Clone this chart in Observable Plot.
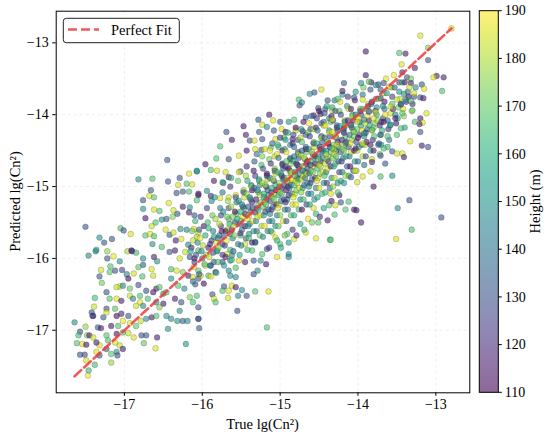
<!DOCTYPE html>
<html><head><meta charset="utf-8">
<script src="https://cdn.jsdelivr.net/npm/d3@7"></script>
<script src="https://cdn.jsdelivr.net/npm/@observablehq/plot@0.6"></script>
<style>
html,body{margin:0;padding:0;background:#fff;}
#chart{width:550px;height:438px;}
</style></head><body><div id="chart"></div>
<script>
const xTicks = [-17,-16,-15,-14,-13];
const yTicks = [-17,-16,-15,-14,-13];
const cbTicks = [110,120,130,140,150,160,170,180,190];
const xLabel = "True lg(Cn²)";
const yLabel = "Predicted lg(Cn²)";
const cbLabel = "Height (m)";
const legendLabel = "Perfect Fit";

// [true lg(Cn2), predicted lg(Cn2), height m]
const lowerLeft = [[-17.46,-15.96,148],[-17.37,-15.9,150],[-17.3,-16.16,184],[-17.32,-16.25,132],[-17.29,-16.34,172],[-17.38,-16.55,166],[-17.39,-16.67,183],[-17.42,-16.75,131],[-17.41,-16.8,140],[-17.64,-16.89,150],[-17.57,-17.02,128],[-17.59,-17.07,165],[-17.5,-16.95,177],[-17.48,-17.07,174],[-17.45,-17.07,117],[-17.61,-17.18,168],[-17.54,-17.19,186],[-17.49,-17.2,114],[-17.57,-17.34,130],[-17.51,-17.34,127],[-17.49,-17.42,185],[-17.38,-17.48,166],[-17.46,-17.56,163],[-17.47,-17.63,188],[-17.34,-16.96,133],[-17.3,-16.97,116],[-17.22,-15.9,176],[-16.96,-15.9,178],[-16.9,-15.9,118],[-16.85,-15.92,165],[-17.22,-16.0,131],[-17.14,-15.97,187],[-17.06,-16.04,150],[-17.18,-16.11,167],[-17.19,-16.19,169],[-17.12,-16.17,129],[-17.03,-16.16,126],[-16.97,-16.22,147],[-16.95,-16.28,113],[-16.88,-16.21,184],[-16.76,-16.0,149],[-16.76,-16.09,132],[-16.82,-16.12,168],[-16.65,-16.15,186],[-16.62,-15.98,117],[-16.58,-16.04,150],[-16.63,-16.24,183],[-16.77,-16.25,166],[-16.82,-16.37,130],[-17.06,-16.39,185],[-17.1,-16.4,182],[-17.02,-16.38,148],[-16.93,-16.42,170],[-17.23,-16.47,131],[-17.19,-16.56,168],[-17.1,-16.56,186],[-17.04,-16.59,116],[-16.93,-16.52,184],[-16.89,-16.56,146],[-16.8,-16.52,167],[-16.72,-16.45,129],[-16.63,-16.47,115],[-16.59,-16.42,118],[-16.55,-16.4,170],[-16.5,-16.49,150],[-16.7,-16.56,166],[-16.8,-16.61,187],[-16.85,-16.66,183],[-16.76,-16.66,148],[-16.59,-16.61,152],[-16.5,-16.63,116],[-16.55,-16.68,175],[-17.23,-16.7,130],[-17.4,-16.8,117],[-17.27,-16.82,133],[-17.23,-16.75,185],[-17.12,-16.7,169],[-17.1,-16.8,114],[-17.04,-16.77,118],[-16.95,-16.8,131],[-17.02,-16.87,187],[-17.17,-16.94,115],[-17.08,-16.94,167],[-16.93,-16.9,184],[-16.85,-16.94,170],[-16.79,-16.87,183],[-16.72,-16.84,149],[-16.65,-16.82,116],[-16.59,-16.8,168],[-16.46,-16.8,150],[-16.4,-16.84,147],[-16.32,-16.87,152],[-16.25,-16.87,132],[-16.19,-16.87,148],[-16.05,-16.84,131],[-16.44,-16.98,150],[-16.21,-17.19,152],[-16.6,-17.25,186],[-16.75,-17.18,170],[-16.72,-17.07,131],[-16.78,-17.07,129],[-16.58,-17.1,117],[-16.88,-17.1,185],[-16.95,-17.04,183],[-17.02,-17.03,167],[-17.1,-17.05,115],[-17.23,-17.07,168],[-17.21,-17.14,166],[-17.12,-17.17,185],[-17.06,-17.21,183],[-17.02,-17.26,116],[-17.1,-17.3,150],[-17.17,-17.33,168],[-17.23,-17.26,130],[-17.32,-17.21,185],[-17.17,-17.45,176],[-17.09,-17.35,131],[-17.32,-17.35,129],[-17.36,-17.3,186],[-17.4,-17.1,184],[-17.36,-17.17,116]];

const lowerDiag = [[-16.42,-15.91,132],[-16.35,-15.89,116],[-16.29,-16.0,185],[-16.22,-15.91,183],[-16.16,-15.98,131],[-16.1,-16.0,117],[-16.05,-15.89,168],[-16.4,-16.15,167],[-16.33,-16.17,186],[-16.25,-16.19,174],[-16.18,-16.24,116],[-16.12,-16.26,184],[-16.05,-16.28,130],[-16.4,-16.28,150],[-16.31,-16.38,168],[-16.23,-16.42,148],[-16.16,-16.54,174],[-16.07,-16.52,167],[-16.46,-16.47,169],[-16.35,-16.56,117],[-16.27,-16.61,131],[-16.12,-16.61,166],[-16.05,-16.68,130],[-16.29,-16.73,150]];

const leftUpper = [[-16.45,-14.63,131],[-16.82,-14.9,149],[-16.64,-14.89,167],[-16.44,-14.93,132],[-16.17,-14.82,186],[-16.07,-14.79,150],[-16.29,-14.88,130],[-16.31,-14.98,185],[-16.2,-14.96,168],[-16.13,-14.97,184],[-16.66,-15.05,131],[-16.68,-15.13,186],[-16.62,-15.15,168],[-16.76,-15.19,132],[-16.33,-15.09,130],[-16.25,-15.07,132],[-16.17,-15.07,166],[-16.05,-15.12,116],[-16.43,-15.23,186],[-16.76,-15.31,150],[-16.62,-15.32,185],[-16.55,-15.34,168],[-16.37,-15.33,184],[-16.25,-15.28,116],[-16.16,-15.29,149],[-16.07,-15.19,167],[-16.73,-15.44,115],[-16.6,-15.5,167],[-16.52,-15.46,150],[-16.46,-15.45,131],[-16.38,-15.42,175],[-16.32,-15.38,130],[-16.17,-15.36,116],[-16.1,-15.4,131],[-17.5,-15.56,131],[-17.32,-15.71,150],[-17.26,-15.78,132],[-17.16,-15.73,131],[-17.05,-15.58,167],[-17.01,-15.61,130],[-16.92,-15.66,185],[-16.73,-15.68,168],[-16.67,-15.66,186],[-16.62,-15.69,166],[-16.65,-15.55,183],[-16.47,-15.6,185],[-16.42,-15.67,130],[-16.37,-15.64,184],[-16.28,-15.59,150],[-16.2,-15.6,145],[-16.11,-15.59,186],[-16.05,-15.64,183],[-16.34,-15.75,116],[-16.27,-15.73,185],[-16.18,-15.81,148],[-16.12,-15.75,184],[-16.64,-15.8,149],[-16.52,-15.84,168],[-17.36,-15.88,150],[-16.91,-15.89,117]];

const midUpper = [[-14.47,-13.65,186],[-14.56,-13.69,132],[-14.62,-13.71,150],[-14.76,-13.79,168],[-14.72,-13.83,148],[-14.75,-13.87,131],[-14.39,-13.8,130],[-14.51,-13.91,131],[-14.42,-13.92,132],[-14.33,-13.94,185],[-15.14,-14.0,116],[-15.09,-14.08,186],[-15.28,-14.07,131],[-15.23,-14.14,184],[-15.0,-14.1,130],[-14.89,-14.1,150],[-14.82,-14.07,168],[-14.67,-14.04,131],[-14.57,-14.01,116],[-14.48,-13.99,117],[-15.47,-14.16,116],[-15.17,-14.17,148],[-15.08,-14.22,132],[-14.98,-14.2,186],[-14.93,-14.24,115],[-14.8,-14.22,184],[-14.71,-14.23,117],[-14.61,-14.2,131],[-14.44,-14.15,186],[-14.35,-14.1,168],[-15.69,-14.24,131],[-15.62,-14.35,116],[-15.44,-14.28,117],[-15.39,-14.36,130],[-15.33,-14.36,185],[-15.27,-14.24,132],[-15.23,-14.34,130],[-15.06,-14.34,184],[-14.95,-14.32,168],[-14.84,-14.34,116],[-15.77,-14.44,167],[-15.43,-14.5,115],[-15.32,-14.48,185],[-15.24,-14.49,131],[-15.12,-14.46,168],[-15.02,-14.45,166],[-15.53,-14.57,186],[-15.66,-14.62,132],[-15.82,-14.61,168],[-15.96,-14.69,116],[-15.89,-14.77,167],[-15.81,-14.78,185],[-15.7,-14.8,184],[-15.66,-14.87,117],[-15.51,-14.79,131],[-15.85,-14.92,115],[-15.74,-14.94,168],[-16.07,-14.78,148],[-16.05,-15.1,116],[-15.89,-15.13,117],[-15.77,-15.16,185],[-15.66,-15.15,184],[-15.94,-15.06,150]];

const midLower = [[-14.57,-15.3,186],[-14.37,-15.26,168],[-14.3,-15.39,167],[-14.39,-15.47,116],[-14.51,-15.5,168],[-14.67,-15.64,185],[-14.54,-15.72,186],[-14.36,-15.74,167],[-14.82,-15.73,185],[-14.91,-15.66,168],[-15.06,-15.71,184],[-15.1,-15.64,186],[-15.0,-15.8,167],[-15.17,-15.87,130],[-15.23,-15.94,168],[-15.04,-15.98,186],[-14.89,-15.94,150],[-14.89,-15.98,148],[-15.18,-16.08,116],[-15.25,-16.03,150],[-15.34,-16.03,131],[-15.45,-16.05,116],[-15.53,-16.03,185],[-15.62,-15.96,150],[-15.64,-16.03,149],[-15.57,-16.13,168],[-15.29,-16.17,150],[-15.34,-16.22,131],[-15.66,-16.17,148],[-15.64,-16.24,150],[-15.57,-16.26,149],[-15.72,-16.39,131],[-15.62,-16.38,185],[-15.66,-16.45,186],[-15.57,-16.4,116],[-15.49,-16.44,150],[-15.54,-16.52,148],[-15.43,-16.52,131],[-15.32,-16.46,168],[-15.15,-16.46,186],[-15.67,-16.55,184],[-15.74,-16.45,167],[-15.87,-16.5,131],[-15.85,-16.56,185],[-15.83,-16.61,168],[-15.55,-16.73,130],[-16.05,-16.84,131],[-16.04,-16.97,132],[-15.17,-16.96,167],[-16.09,-16.36,130],[-16.05,-16.17,168],[-16.02,-16.24,185],[-15.92,-16.24,167],[-15.83,-16.19,116],[-15.89,-16.1,131],[-15.85,-16.05,132],[-15.96,-16.1,185],[-15.74,-16.05,130],[-15.81,-15.89,150],[-15.68,-15.94,184],[-15.74,-15.8,132],[-15.64,-15.66,148],[-15.51,-15.68,168],[-15.4,-15.66,150],[-15.45,-15.8,185],[-15.32,-15.77,150],[-15.36,-15.89,167]];

const rightUpper = [[-12.8,-12.8,186],[-13.2,-12.9,185],[-13.9,-13.12,116],[-13.47,-13.14,168],[-13.39,-13.15,116],[-13.1,-13.07,172],[-13.1,-13.24,131],[-13.44,-13.3,185],[-13.27,-13.35,117],[-13.43,-13.41,118],[-12.99,-13.46,116],[-12.9,-13.48,117],[-13.03,-13.48,186],[-12.92,-13.67,167],[-13.9,-13.45,116],[-13.77,-13.59,148],[-13.67,-13.56,131],[-13.6,-13.61,185],[-13.4,-13.55,116],[-13.32,-13.56,117],[-13.34,-13.62,184],[-13.18,-13.58,132],[-13.15,-13.64,186],[-14.18,-13.56,131],[-14.2,-13.67,116],[-13.96,-13.56,148],[-13.86,-13.54,168],[-13.71,-13.65,132],[-13.47,-13.68,150],[-13.41,-13.71,149],[-13.28,-13.7,185],[-13.2,-13.76,131],[-13.16,-13.77,116],[-13.3,-13.94,168],[-13.12,-13.98,186],[-13.2,-14.05,117],[-13.17,-14.11,186],[-13.21,-14.13,116],[-13.2,-14.24,132],[-13.33,-14.37,185],[-13.18,-14.43,116],[-13.1,-14.45,131],[-13.94,-13.79,185],[-14.05,-13.76,131],[-14.26,-13.78,168],[-14.09,-13.92,116],[-14.29,-13.95,131],[-14.33,-14.07,185],[-13.82,-13.82,117],[-13.71,-13.77,132],[-13.58,-13.89,185],[-13.45,-13.86,131],[-13.39,-13.79,148],[-13.5,-13.79,184],[-13.32,-13.81,167],[-13.43,-13.98,168],[-13.52,-14.05,116],[-13.45,-14.19,167],[-13.58,-14.14,149],[-13.67,-14.1,117],[-13.8,-14.05,185],[-13.77,-13.96,184],[-13.86,-13.96,131],[-13.92,-14.07,148],[-14.01,-14.1,186],[-14.09,-14.14,131],[-14.18,-14.19,130],[-14.05,-14.24,168],[-13.92,-14.26,150],[-13.82,-14.21,167],[-13.71,-14.28,132],[-13.62,-14.3,168],[-13.73,-14.4,131],[-13.67,-14.47,167],[-13.84,-14.42,116],[-13.94,-14.4,185],[-14.03,-14.47,117],[-14.16,-14.4,148],[-14.27,-14.42,184],[-14.33,-14.47,167],[-13.56,-14.51,131],[-13.43,-14.54,185]];

const rightLower = [[-13.41,-14.59,116],[-13.5,-14.54,184],[-13.65,-14.68,131],[-13.71,-14.57,132],[-13.84,-14.79,185],[-13.71,-14.86,167],[-13.56,-14.85,150],[-13.8,-15.0,116],[-13.82,-14.66,117],[-13.94,-14.86,185],[-14.04,-14.78,186],[-14.09,-14.87,131],[-14.01,-14.94,184],[-14.18,-14.95,150],[-14.26,-15.08,168],[-14.35,-15.1,185],[-14.22,-15.22,131],[-14.12,-15.21,167],[-14.29,-15.26,185],[-14.16,-15.32,168],[-14.05,-15.32,116],[-14.02,-15.33,117],[-13.96,-15.5,116],[-13.34,-15.19,131],[-13.49,-15.3,150],[-12.93,-15.43,131],[-13.31,-15.6,167],[-13.51,-15.73,186],[-14.35,-15.74,168]];

const coreLow = [[-16.13,-15.62,172],[-16.08,-15.95,131],[-16.11,-16.12,185],[-16.06,-15.78,148],[-16.14,-15.85,119],[-16.09,-15.48,163],[-16.12,-16.32,140],[-16.07,-15.7,178],[-16.1,-16.05,126],[-16.15,-15.9,157],
[-16.03,-15.72,188],[-15.98,-15.55,115],[-16.01,-15.9,150],[-15.97,-16.08,169],[-16.04,-16.22,133],[-15.99,-15.82,181],[-16.02,-15.42,122],[-15.96,-15.68,160],[-16.0,-16.0,144],[-15.95,-15.95,176],[-16.04,-15.6,137],[-15.98,-16.35,113],
[-15.93,-15.5,166],[-15.88,-15.75,128],[-15.91,-15.98,183],[-15.86,-15.62,146],[-15.92,-15.85,118],[-15.87,-15.4,171],[-15.9,-16.1,139],[-15.85,-15.7,155],[-15.94,-15.3,124],[-15.89,-16.25,186],[-15.86,-15.92,130],[-15.92,-15.58,162],[-15.88,-15.2,149],[-15.9,-15.8,116],
[-15.83,-15.45,179],[-15.78,-15.68,135],[-15.81,-15.9,158],[-15.76,-15.55,121],[-15.82,-15.78,187],[-15.77,-15.3,143],[-15.8,-16.05,167],[-15.75,-15.62,114],[-15.84,-15.15,152],[-15.79,-15.85,175],[-15.76,-15.4,129],[-15.82,-16.2,161],[-15.78,-15.52,182],[-15.8,-15.72,138],[-15.74,-15.95,120],
[-15.73,-15.35,147],[-15.68,-15.6,184],[-15.71,-15.82,125],[-15.66,-15.45,168],[-15.72,-15.7,136],[-15.67,-15.2,177],[-15.7,-15.98,117],[-15.65,-15.52,159],[-15.74,-15.08,142],[-15.69,-15.75,189],[-15.66,-15.3,131],[-15.72,-16.1,154],[-15.68,-15.42,173],[-15.7,-15.62,112],[-15.64,-15.88,164],[-15.73,-14.95,140],
[-15.63,-15.28,180],[-15.58,-15.5,127],[-15.61,-15.72,151],[-15.56,-15.38,170],[-15.62,-15.6,118],[-15.57,-15.12,186],[-15.6,-15.9,134],[-15.55,-15.45,157],[-15.64,-15.0,123],[-15.59,-15.68,176],[-15.56,-15.22,145],[-15.62,-16.02,165],[-15.58,-15.35,111],[-15.6,-15.55,182],[-15.54,-15.8,139],[-15.63,-14.88,160],[-15.57,-15.15,129],[-15.61,-15.42,174],
[-15.53,-15.2,153],[-15.48,-15.42,188],[-15.51,-15.65,120],[-15.46,-15.3,166],[-15.52,-15.52,132],[-15.47,-15.05,178],[-15.5,-15.82,146],[-15.45,-15.38,115],[-15.54,-14.92,171],[-15.49,-15.6,137],[-15.46,-15.15,184],[-15.52,-15.95,158],[-15.48,-15.28,124],[-15.5,-15.48,169],[-15.44,-15.72,142],[-15.53,-14.8,187],[-15.47,-15.08,128],[-15.51,-15.35,162],[-15.45,-15.55,113],[-15.49,-15.25,150],
[-15.43,-15.1,175],[-15.38,-15.35,133],[-15.41,-15.55,156],[-15.36,-15.22,119],[-15.42,-15.45,185],[-15.37,-14.98,141],[-15.4,-15.72,167],[-15.35,-15.3,126],[-15.44,-14.85,179],[-15.39,-15.52,148],[-15.36,-15.05,112],[-15.42,-15.88,163],[-15.38,-15.18,138],[-15.4,-15.4,182],[-15.34,-15.62,155],[-15.43,-14.72,121],[-15.37,-15.0,172],[-15.41,-15.28,135],[-15.35,-15.48,189],[-15.39,-15.15,144],[-15.36,-15.78,117],[-15.42,-14.92,160],
[-15.33,-15.02,130],[-15.28,-15.26,177],[-15.31,-15.48,149],[-15.26,-15.12,186],[-15.32,-15.36,122],[-15.27,-14.9,164],[-15.3,-15.62,138],[-15.25,-15.22,171],[-15.34,-14.78,115],[-15.29,-15.42,183],[-15.26,-14.98,152],[-15.32,-15.78,127],[-15.28,-15.08,168],[-15.3,-15.3,141],[-15.24,-15.55,178],[-15.33,-14.65,134],[-15.27,-14.92,159],[-15.31,-15.18,118],[-15.25,-15.4,187],[-15.29,-15.05,146],[-15.26,-15.68,173],[-15.32,-14.85,125],[-15.28,-15.32,162],[-15.3,-14.55,140],
[-15.23,-14.95,181],[-15.18,-15.18,124],[-15.21,-15.4,157],[-15.16,-15.05,136],[-15.22,-15.28,170],[-15.17,-14.82,113],[-15.2,-15.55,188],[-15.15,-15.12,145],[-15.24,-14.7,166],[-15.19,-15.35,129],[-15.16,-14.9,179],[-15.22,-15.7,151],[-15.18,-15.0,120],[-15.2,-15.22,184],[-15.14,-15.48,139],[-15.23,-14.58,174],[-15.17,-14.85,116],[-15.21,-15.1,161],[-15.15,-15.32,133],[-15.19,-14.98,176],[-15.16,-15.62,148],[-15.22,-14.75,127],[-15.18,-15.25,167],[-15.2,-14.48,185],[-15.14,-15.85,122],[-15.21,-15.15,154],
[-15.13,-14.88,143],[-15.08,-15.1,186],[-15.11,-15.32,118],[-15.06,-14.98,165],[-15.12,-15.2,132],[-15.07,-14.75,177],[-15.1,-15.48,149],[-15.05,-15.05,111],[-15.14,-14.62,172],[-15.09,-15.28,138],[-15.06,-14.82,183],[-15.12,-15.62,156],[-15.08,-14.92,125],[-15.1,-15.15,169],[-15.04,-15.4,146],[-15.13,-14.5,188],[-15.07,-14.78,130],[-15.11,-15.02,161],[-15.05,-15.25,114],[-15.09,-14.9,179],[-15.06,-15.55,152],[-15.12,-14.68,121],[-15.08,-15.18,174],[-15.1,-14.4,137],[-15.04,-15.75,163],[-15.11,-15.08,128],[-15.07,-14.58,181],[-15.13,-15.38,145]];

const coreMid = [[-15.03,-14.8,167],[-14.98,-15.02,123],[-15.01,-15.25,184],[-14.96,-14.9,141],[-15.02,-15.12,159],[-14.97,-14.68,116],[-15.0,-15.4,176],[-14.95,-14.98,135],[-15.04,-14.55,188],[-14.99,-15.2,150],[-14.96,-14.75,127],[-15.02,-15.55,170],[-14.98,-14.85,112],[-15.0,-15.08,182],[-14.94,-15.32,144],[-15.03,-14.42,161],[-14.97,-14.7,131],[-15.01,-14.95,178],[-14.95,-15.18,120],[-14.99,-14.82,155],[-14.96,-15.48,187],[-15.02,-14.6,139],[-14.98,-15.1,166],[-15.0,-14.32,124],[-14.94,-15.68,173],[-15.01,-15.0,147],[-14.97,-14.5,118],[-15.03,-15.3,185],[-14.95,-14.88,133],[-14.99,-15.85,158],
[-14.93,-14.72,126],[-14.88,-14.95,180],[-14.91,-15.18,142],[-14.86,-14.82,171],[-14.92,-15.05,115],[-14.87,-14.6,163],[-14.9,-15.32,137],[-14.85,-14.9,186],[-14.94,-14.48,149],[-14.89,-15.12,121],[-14.86,-14.68,175],[-14.92,-15.48,132],[-14.88,-14.78,167],[-14.9,-15.0,118],[-14.84,-15.25,183],[-14.93,-14.35,154],[-14.87,-14.62,129],[-14.91,-14.88,178],[-14.85,-15.1,144],[-14.89,-14.75,112],[-14.86,-15.4,169],[-14.92,-14.52,188],[-14.88,-15.02,136],[-14.9,-14.25,160],[-14.84,-15.6,123],[-14.91,-14.92,174],[-14.87,-14.42,147],[-14.93,-15.22,119],[-14.85,-14.8,185],[-14.89,-15.78,152],[-14.86,-14.98,131],[-14.92,-14.65,170],
[-14.83,-14.64,157],[-14.78,-14.88,114],[-14.81,-15.1,182],[-14.76,-14.75,139],[-14.82,-14.98,168],[-14.77,-14.52,125],[-14.8,-15.25,187],[-14.75,-14.82,146],[-14.84,-14.4,120],[-14.79,-15.05,173],[-14.76,-14.6,134],[-14.82,-15.4,161],[-14.78,-14.7,117],[-14.8,-14.92,184],[-14.74,-15.18,150],[-14.83,-14.28,128],[-14.77,-14.55,176],[-14.81,-14.8,143],[-14.75,-15.02,189],[-14.79,-14.68,122],[-14.76,-15.32,165],[-14.82,-14.45,137],[-14.78,-14.95,180],[-14.8,-14.18,113],[-14.74,-15.52,155],[-14.81,-14.85,171],[-14.77,-14.35,130],[-14.83,-15.15,186],[-14.75,-14.72,148],[-14.79,-15.68,119],[-14.76,-14.9,163],[-14.82,-14.58,140],
[-14.73,-14.56,178],[-14.68,-14.8,131],[-14.71,-15.02,156],[-14.66,-14.68,117],[-14.72,-14.9,185],[-14.67,-14.45,143],[-14.7,-15.18,166],[-14.65,-14.75,124],[-14.74,-14.32,181],[-14.69,-14.98,138],[-14.66,-14.52,172],[-14.72,-15.32,112],[-14.68,-14.62,160],[-14.7,-14.85,188],[-14.64,-15.1,135],[-14.73,-14.2,153],[-14.67,-14.48,120],[-14.71,-14.72,176],[-14.65,-14.95,145],[-14.69,-14.6,183],[-14.66,-15.25,127],[-14.72,-14.38,169],[-14.68,-14.88,141],[-14.7,-14.1,115],[-14.64,-15.45,187],[-14.71,-14.78,150],[-14.67,-14.28,133],[-14.73,-15.08,174],[-14.65,-14.65,121],[-14.69,-15.6,162],[-14.66,-14.82,179],[-14.72,-14.5,136],
[-14.63,-14.48,144],[-14.58,-14.72,187],[-14.61,-14.95,122],[-14.56,-14.6,165],[-14.62,-14.82,133],[-14.57,-14.38,176],[-14.6,-15.1,150],[-14.55,-14.68,113],[-14.64,-14.25,170],[-14.59,-14.9,139],[-14.56,-14.45,184],[-14.62,-15.25,158],[-14.58,-14.55,126],[-14.6,-14.78,168],[-14.54,-15.02,147],[-14.63,-14.12,189],[-14.57,-14.4,131],[-14.61,-14.65,162],[-14.55,-14.88,118],[-14.59,-14.52,180],[-14.56,-15.18,154],[-14.62,-14.3,125],[-14.58,-14.8,173],[-14.6,-14.02,137],[-14.54,-15.38,164],[-14.61,-14.7,129],[-14.57,-14.2,182],[-14.63,-15.0,146],[-14.55,-14.58,116],[-14.59,-15.5,171],
[-14.53,-14.4,161],[-14.48,-14.65,119],[-14.51,-14.88,183],[-14.46,-14.52,140],[-14.52,-14.75,167],[-14.47,-14.3,128],[-14.5,-15.02,186],[-14.45,-14.6,145],[-14.54,-14.18,121],[-14.49,-14.82,174],[-14.46,-14.38,135],[-14.52,-15.15,160],[-14.48,-14.48,116],[-14.5,-14.7,181],[-14.44,-14.95,152],[-14.53,-14.05,127],[-14.47,-14.32,177],[-14.51,-14.58,142],[-14.45,-14.8,188],[-14.49,-14.45,124],[-14.46,-15.1,166],[-14.52,-14.22,138],[-14.48,-14.72,179],[-14.5,-13.95,112],[-14.44,-15.3,157],[-14.51,-14.62,170],[-14.47,-14.12,132],[-14.53,-14.92,185],[-14.45,-14.5,149],[-14.49,-15.42,120],
[-14.43,-14.32,131],[-14.38,-14.58,175],[-14.41,-14.8,148],[-14.36,-14.45,117],[-14.42,-14.68,184],[-14.37,-14.22,156],[-14.4,-14.95,123],[-14.35,-14.52,169],[-14.44,-14.1,140],[-14.39,-14.75,187],[-14.36,-14.3,128],[-14.42,-15.08,163],[-14.38,-14.4,114],[-14.4,-14.62,178],[-14.34,-14.88,151],[-14.43,-13.98,134],[-14.37,-14.25,182],[-14.41,-14.5,146],[-14.35,-14.72,121],[-14.39,-14.38,172],[-14.36,-15.02,139],[-14.42,-14.15,188],[-14.38,-14.65,126],[-14.4,-13.88,159],[-14.34,-15.2,115],[-14.41,-14.55,176],[-14.37,-14.05,143],[-14.43,-14.85,167],
[-14.33,-14.24,186],[-14.28,-14.5,129],[-14.31,-14.72,158],[-14.26,-14.38,120],[-14.32,-14.6,171],[-14.27,-14.15,137],[-14.3,-14.88,183],[-14.25,-14.45,148],[-14.34,-14.02,116],[-14.29,-14.68,165],[-14.26,-14.22,133],[-14.32,-15.0,178],[-14.28,-14.32,142],[-14.3,-14.55,189],[-14.24,-14.8,125],[-14.33,-13.9,161],[-14.27,-14.18,118],[-14.31,-14.42,174],[-14.25,-14.65,136],[-14.29,-14.3,181],[-14.26,-14.95,152],[-14.32,-14.08,127],[-14.28,-14.58,168],[-14.3,-13.8,144],[-14.24,-15.12,113],[-14.31,-14.48,185],
[-14.23,-14.16,153],[-14.18,-14.42,188],[-14.21,-14.65,124],[-14.16,-14.3,167],[-14.22,-14.52,135],[-14.17,-14.08,179],[-14.2,-14.8,147],[-14.15,-14.38,115],[-14.24,-13.95,172],[-14.19,-14.6,140],[-14.16,-14.15,184],[-14.22,-14.92,159],[-14.18,-14.25,121],[-14.2,-14.48,176],[-14.14,-14.72,131],[-14.23,-13.82,186],[-14.17,-14.1,145],[-14.21,-14.35,117],[-14.15,-14.58,163],[-14.19,-14.22,138],[-14.16,-14.85,181],[-14.22,-14.0,128],[-14.18,-14.5,170],[-14.2,-13.72,150],
[-14.13,-14.08,119],[-14.08,-14.35,177],[-14.11,-14.58,143],[-14.06,-14.22,186],[-14.12,-14.45,130],[-14.07,-14.0,161],[-14.1,-14.72,115],[-14.05,-14.3,173],[-14.14,-13.88,149],[-14.09,-14.52,182],[-14.06,-14.08,126],[-14.12,-14.85,165],[-14.08,-14.18,137],[-14.1,-14.4,188],[-14.04,-14.65,154],[-14.13,-13.75,122],[-14.07,-14.02,179],[-14.11,-14.28,141],[-14.05,-14.5,113],[-14.09,-14.15,168],[-14.06,-14.78,134],[-14.12,-13.92,184]];

const coreHigh = [[-14.03,-14.0,146],[-13.98,-14.28,121],[-14.01,-14.5,183],[-13.96,-14.15,158],[-14.02,-14.38,127],[-13.97,-13.92,170],[-14.0,-14.65,139],[-13.95,-14.22,187],[-14.04,-13.8,116],[-13.99,-14.45,163],[-13.96,-14.0,132],[-14.02,-14.78,176],[-13.98,-14.1,148],[-14.0,-14.32,112],[-13.94,-14.58,180],[-14.03,-13.68,155],[-13.97,-13.95,124],[-14.01,-14.2,171],[-13.95,-14.42,143],[-13.99,-14.05,186],
[-13.93,-13.92,168],[-13.88,-14.2,135],[-13.91,-14.42,179],[-13.86,-14.08,118],[-13.92,-14.3,152],[-13.87,-13.85,185],[-13.9,-14.58,127],[-13.85,-14.15,162],[-13.94,-13.72,144],[-13.89,-14.38,113],[-13.86,-13.95,176],[-13.92,-14.7,140],[-13.88,-14.02,188],[-13.9,-14.25,129],[-13.84,-14.5,157],[-13.93,-13.62,172],[-13.87,-13.88,120],[-13.91,-14.12,183],
[-13.83,-13.85,137],[-13.78,-14.12,174],[-13.81,-14.35,122],[-13.76,-14.0,160],[-13.82,-14.22,186],[-13.77,-13.78,145],[-13.8,-14.5,116],[-13.75,-14.08,178],[-13.84,-13.65,131],[-13.79,-14.3,167],[-13.76,-13.9,149],[-13.82,-14.62,184],[-13.78,-13.95,125],[-13.8,-14.18,170],[-13.74,-14.42,139],[-13.83,-13.55,113],
[-13.73,-13.78,181],[-13.68,-14.05,128],[-13.71,-14.28,165],[-13.66,-13.92,142],[-13.72,-14.15,119],[-13.67,-13.7,176],[-13.7,-14.42,154],[-13.65,-14.0,187],[-13.74,-13.58,133],[-13.69,-14.22,161],[-13.66,-13.82,115],[-13.72,-14.55,172],[-13.68,-13.88,147],[-13.7,-14.1,124],
[-13.63,-13.7,158],[-13.58,-13.98,184],[-13.61,-14.2,121],[-13.56,-13.85,169],[-13.62,-14.08,136],[-13.57,-13.62,175],[-13.6,-14.35,143],[-13.55,-13.92,118],[-13.64,-13.5,186],[-13.59,-14.15,152],[-13.56,-13.75,127],[-13.62,-14.45,164],
[-13.53,-13.62,139],[-13.48,-13.9,173],[-13.51,-14.12,116],[-13.46,-13.78,182],[-13.52,-14.0,148],[-13.47,-13.55,125],[-13.5,-14.28,167],[-13.45,-13.85,135],[-13.54,-13.45,188],[-13.49,-14.05,154],
[-13.43,-13.55,163],[-13.38,-13.82,120],[-13.41,-14.02,177],[-13.36,-13.68,141],[-13.42,-13.92,186],[-13.37,-13.48,130],[-13.4,-14.18,158],[-13.35,-13.75,115],
[-13.32,-13.5,172],[-13.28,-13.75,134],[-13.31,-13.95,183],[-13.26,-13.62,149],[-13.3,-13.85,118],[-13.27,-14.1,165]];

const points = [...lowerLeft, ...lowerDiag, ...leftUpper, ...midLower, ...midUpper, ...coreLow, ...coreMid, ...coreHigh, ...rightUpper, ...rightLower]
  .map(([t, p, h]) => ({t, p, h}));
const lo = d3.min(points, d => Math.min(d.t, d.p));
const hi = d3.max(points, d => Math.max(d.t, d.p));
const fitLine = [{v: lo}, {v: hi}];
const fmt = d => (d < 0 ? "\u2212" : "") + Math.abs(d);

const W = 550, H = 438, mL = 55.7, mT = 10.7, mR = 80.7, mB = 45.7;
const FONT = "'Liberation Serif', 'Times New Roman', serif";
const RED = "#f03a3a";

const chart = Plot.plot({
  width: W, height: H,
  marginLeft: mL, marginTop: mT, marginRight: mR, marginBottom: mB,
  style: {fontFamily: FONT, fontSize: "14px", color: "black", background: "white", overflow: "visible"},
  x: {domain: [-17.876, -12.564], label: null},
  y: {domain: [-17.87, -12.56], label: null},
  color: {type: "linear", scheme: "viridis", domain: [110, 190]},
  marks: [
    Plot.gridX(xTicks, {stroke: "#b0b0b0", strokeOpacity: 0.3, strokeDasharray: "3,3", strokeWidth: 0.7}),
    Plot.gridY(yTicks, {stroke: "#b0b0b0", strokeOpacity: 0.3, strokeDasharray: "3,3", strokeWidth: 0.7}),
    Plot.dot(points, {x: "t", y: "p", fill: "h", r: 2.9, fillOpacity: 0.6, stroke: "black", strokeOpacity: 0.45, strokeWidth: 0.4}),
    Plot.line(fitLine, {x: "v", y: "v", stroke: RED, strokeOpacity: 0.85, strokeWidth: 2.6, strokeDasharray: "9,4"}),
    Plot.frame({stroke: "black", strokeWidth: 1}),
    Plot.axisX(xTicks, {tickSize: 3.5, tickPadding: 3, tickFormat: fmt, label: null, fontSize: 14, fontFamily: FONT}),
    Plot.axisY(yTicks, {tickSize: 3.5, tickPadding: 4, tickFormat: fmt, label: null, fontSize: 14, fontFamily: FONT})
  ]
});
document.getElementById("chart").appendChild(chart);

const svg = d3.select(chart);
const addText = (sel) => sel.style("font-family", FONT).attr("fill", "black");
// axis labels
addText(svg.append("text").attr("x", mL + (W - mL - mR) / 2).attr("y", 429)
  .attr("text-anchor", "middle").style("font-size", "14.5px")).text(xLabel);
addText(svg.append("text").attr("transform", `translate(19.5,${mT + (H - mT - mB) / 2}) rotate(-90)`)
  .attr("text-anchor", "middle").style("font-size", "14.5px")).text(yLabel);

// legend
const lg = svg.append("g");
lg.append("rect").attr("x", 63.3).attr("y", 18.3).attr("width", 116).attr("height", 24.4).attr("rx", 3)
  .attr("fill", "white").attr("fill-opacity", 0.85).attr("stroke", "#222").attr("stroke-width", 1);
lg.append("line").attr("x1", 68).attr("x2", 99).attr("y1", 29.5).attr("y2", 29.5)
  .attr("stroke", RED).attr("stroke-opacity", 0.85).attr("stroke-width", 2.6).attr("stroke-dasharray", "9,4");
addText(lg.append("text").attr("x", 111).attr("y", 35).attr("text-anchor", "start").style("font-size", "14.5px")).text(legendLabel);

// colorbar
const cbX = 479.3, cbW = 19, cbTop = mT, cbBot = H - mB;
const cy = d3.scaleLinear().domain([110, 190]).range([cbBot, cbTop]);
const defs = svg.append("defs");
const grad = defs.append("linearGradient").attr("id", "cbgrad").attr("x1", 0).attr("y1", 1).attr("x2", 0).attr("y2", 0);
d3.range(0, 1.0001, 0.05).forEach(t => grad.append("stop").attr("offset", t).attr("stop-color", d3.interpolateViridis(t)));
svg.append("rect").attr("x", cbX).attr("y", cbTop).attr("width", cbW).attr("height", cbBot - cbTop)
  .attr("fill", "url(#cbgrad)").attr("fill-opacity", 0.6);
svg.append("rect").attr("x", cbX).attr("y", cbTop).attr("width", cbW).attr("height", cbBot - cbTop)
  .attr("fill", "none").attr("stroke", "black").attr("stroke-width", 1);
const cbg = svg.append("g");
cbTicks.forEach(v => {
  cbg.append("line").attr("x1", cbX + cbW).attr("x2", cbX + cbW + 3.5).attr("y1", cy(v)).attr("y2", cy(v)).attr("stroke", "black");
  addText(cbg.append("text").attr("x", cbX + cbW + 6.5).attr("y", cy(v)).attr("dy", "0.34em")
    .attr("text-anchor", "start").style("font-size", "14px")).text(v);
});
addText(svg.append("text").attr("transform", `translate(540,${(cbTop + cbBot) / 2}) rotate(-90)`)
  .attr("text-anchor", "middle").style("font-size", "14.5px")).text(cbLabel);
</script>
</body></html>
